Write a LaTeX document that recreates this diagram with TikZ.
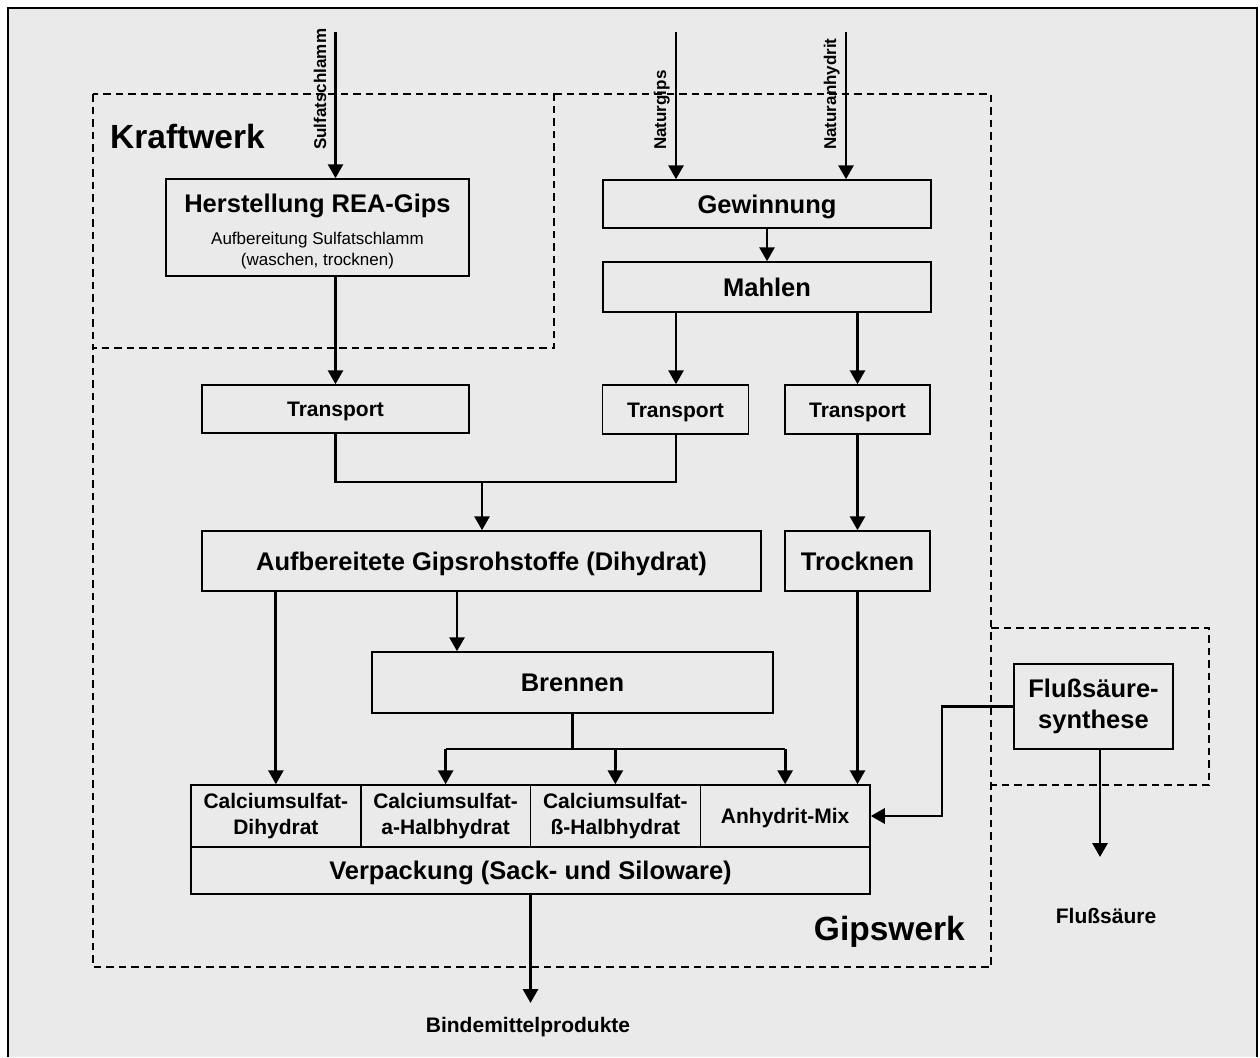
\documentclass[tikz,border=0pt]{standalone}
\usepackage{fontspec}
\setmainfont{Liberation Sans}
\usetikzlibrary{arrows.meta}
\definecolor{bg}{RGB}{234,234,234}
\begin{document}
\begin{tikzpicture}[x=1pt,y=-1pt,
  box/.style={draw, line width=1.5pt, inner sep=0pt, align=center},
  big/.style={font=\bfseries\fontsize{25.5}{31}\selectfont},
  mid/.style={font=\bfseries\fontsize{21}{26}\selectfont},
  capbig/.style={text height=18.3pt, text depth=0pt},
  capmid/.style={text height=15pt, text depth=0pt},
  arr/.style={line width=2.9pt, -{Triangle[length=14pt,width=15pt]}},
  flow/.style={line width=2.9pt},
  dashbox/.style={line width=2.6pt, dash pattern=on 7.5pt off 5pt},
  rotlabel/.style={rotate=90, anchor=base west, inner sep=0pt, font=\bfseries\fontsize{17}{20}\selectfont},
  region/.style={inner sep=0pt, font=\bfseries\fontsize{33.5}{40}\selectfont},
  outlabel/.style={inner sep=0pt, font=\bfseries\fontsize{21}{26}\selectfont, text height=15pt, text depth=0pt},
  txt/.style={inner sep=0pt, anchor=base}
]
\useasboundingbox (0,0) rectangle (1260,1057);
\fill[bg] (8,8) rectangle (1257,1057);
\draw[line width=1.5pt] (8,1057) -- (8,8) -- (1257,8) -- (1257,1057);

% dashed regions
\draw[dashbox] (93,94) rectangle (554,348);
\draw[dashbox] (554,94) -- (991,94) -- (991,967) -- (93,967) -- (93,348);
\draw[dashbox] (991,628) -- (1209,628) -- (1209,785) -- (991,785);

% region labels
\node[region, anchor=base west] (kw) at (110,148) {Kraftwerk};
\node[region, anchor=base east] (gw) at (965,940) {Gipswerk};

% boxes
\node[box, minimum width=303pt, minimum height=97pt] (her) at (317.5,227.5) {};
\node[txt, big] (hert) at (317.5,212) {Herstellung REA-Gips};
\node[txt, font=\fontsize{17}{21}\selectfont] (hers1) at (317.5,244) {Aufbereitung Sulfatschlamm};
\node[txt, font=\fontsize{17}{21}\selectfont] (hers2) at (317.5,265) {(waschen, trocknen)};

\node[box, big, capbig, minimum width=328pt, minimum height=48pt] (gew) at (767,204) {Gewinnung};
\node[box, big, capbig, minimum width=328pt, minimum height=50pt] (mah) at (767,287) {Mahlen};
\node[box, mid, capmid, minimum width=267pt, minimum height=48pt] (tr1) at (335.5,409) {Transport};
\node[box, mid, capmid, minimum width=146pt, minimum height=49pt] (tr2) at (675.5,409.5) {Transport};
\node[box, mid, capmid, minimum width=145pt, minimum height=49pt] (tr3) at (857.5,409.5) {Transport};
\node[box, big, capbig, minimum width=559pt, minimum height=60pt] (auf) at (481.5,561) {Aufbereitete Gipsrohstoffe (Dihydrat)};
\node[box, big, capbig, minimum width=145pt, minimum height=60pt] (tro) at (857.5,561) {Trocknen};
\node[box, big, capbig, minimum width=401pt, minimum height=61pt] (bre) at (572.5,682.5) {Brennen};

\node[box, mid, minimum width=169.75pt, minimum height=62pt] (c1) at (275.875,816) {Calciumsulfat-\\Dihydrat};
\node[box, mid, minimum width=169.75pt, minimum height=62pt] (c2) at (445.625,816) {Calciumsulfat-\\a-Halbhydrat};
\node[box, mid, minimum width=169.75pt, minimum height=62pt] (c3) at (615.375,816) {Calciumsulfat-\\ß-Halbhydrat};
\node[box, mid, capmid, minimum width=169.75pt, minimum height=62pt] (c4) at (785.125,816) {Anhydrit-Mix};
\node[box, big, capbig, minimum width=679pt, minimum height=47pt] (ver) at (530.5,870.5) {Verpackung (Sack- und Siloware)};

\node[box, big, minimum width=159pt, minimum height=85pt] (fs) at (1093.5,706.5) {Flußsäure-\\synthese};

% outside labels
\node[outlabel] (bmp) at (528,1025) {Bindemittelprodukte};
\node[outlabel] (fsl) at (1106,916) {Flußsäure};

% input arrows and their labels
\coordinate (s1) at (335.5,32);
\coordinate (ng) at (676,32);
\coordinate (na) at (846,32);
\draw[arr] (s1) -- (s1 |- her.north);
\draw[arr] (ng) -- (ng |- gew.north);
\draw[arr] (na) -- (na |- gew.north);
\node[rotlabel] (ls) at (326,150) {Sulfatschlamm};
\node[rotlabel] (lg) at (666,150) {Naturgips};
\node[rotlabel] (la) at (836,150) {Naturanhydrit};

% flows
\draw[arr] (gew) -- (mah);
\coordinate (m2) at (676,0);
\draw[arr] (m2 |- mah.south) -- (m2 |- tr2.north);
\draw[arr] (tr3.north |- mah.south) -- (tr3.north);
\draw[arr] (tr1.north |- her.south) -- (tr1.north);

\coordinate (mg) at (482,482);
\draw[flow] (tr1.south) |- (mg) -| (m2 |- tr2.south);
\draw[arr] (mg) -- (mg |- auf.north);

\draw[arr] (tr3.south) -- (tro.north);
\draw[arr] (c1.north |- auf.south) -- (c1.north);
\coordinate (ab) at (457,0);
\draw[arr] (ab |- auf.south) -- (ab |- bre.north);

\coordinate (br) at (572.5,749);
\draw[flow] (bre.south) -- (br);
\draw[flow] (c2.north |- br) -- (c4.north |- br);
\draw[arr] (c2.north |- br) -- (c2.north);
\draw[arr] (c3.north |- br) -- (c3.north);
\draw[arr] (c4.north |- br) -- (c4.north);

\draw[arr] (tro.south) -- (tro.south |- c4.north);

\coordinate (fk) at (942,0);
\draw[arr] (fs.west) -| (fk |- c4.east) -- (c4.east);
\coordinate (fo) at (1100,857);
\draw[arr] (fo |- fs.south) -- (fo);

\coordinate (vo) at (530.5,1003);
\draw[arr] (ver.south) -- (vo);
\end{tikzpicture}
\end{document}
